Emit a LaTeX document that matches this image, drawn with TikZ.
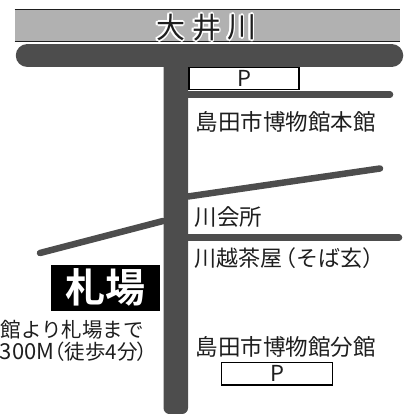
\documentclass[tikz,border=0pt]{standalone}
\usepackage{fontspec}
\setmainfont[RawFeature=+palt]{Noto Sans CJK JP}
\newfontfamily\fullw{Noto Sans CJK JP}
\newfontfamily\boldjp{Noto Sans CJK JP Bold}
\definecolor{road}{HTML}{4D4D4D}
\definecolor{river}{HTML}{B1B1B1}
\definecolor{ink}{HTML}{1E1E1E}
\tikzset{
  road/.style={draw=road,line cap=round},
  label/.style={font=\fullw\fontsize{22.5}{24}\selectfont,text=ink,inner sep=0pt},
  pbox/.style={draw=black,line width=1.2pt,fill=white,minimum width=#1,minimum height=22.5pt,inner sep=0pt,font=\fullw\fontsize{22}{24}\selectfont,text=ink},
  rivername/.style={inner sep=0pt,font=\fullw\fontsize{29}{30}\selectfont}
}
\begin{document}
\begin{tikzpicture}[x=1pt,y=-1pt]
\useasboundingbox (0,0) rectangle (405,414);
% river
\fill[river] (14.5,9) rectangle (400,41);
\draw[ink,line width=.8pt] (14.5,9) -- (400,9);
\draw[ink,line width=.8pt] (14.5,41) -- (400,41);
\foreach \nm/\cx/\tx in {a/170.5/大,b/206.5/井,c/241.5/川}{
  \foreach \ang in {0,45,...,315}{
    \node[rivername,text=white] at ([shift={(\ang:1.8pt)}]\cx,27.5) {\tx};
  }
  \node[rivername,text=ink] (river\nm) at (\cx,27.5) {\tx};
}
% roads
\draw[road,line width=6.5pt] (40,253) -- (163,221);
\draw[road,line width=6.5pt] (188,196.5) -- (380,168.5);
\draw[road,line width=6.5pt] (188,237.5) -- (399,237.5);
\draw[road,line width=6.5pt] (188,94.7) -- (390,94.7);
\draw[road,line width=23.5pt] (27.5,55.5) -- (391.5,55.5);
\fill[fill=road,rounded corners=6pt] (163.5,50) rectangle (188,414);
% labels
\node[pbox=110pt] (p1) at (244,78.5) {P};
\node[pbox=111pt] (p2) at (277,373.7) {P};
\node[label,anchor=west] (honkan) at (195.5,122) {島田市博物館本館};
\node[label,anchor=west] (kaisho) at (194.5,217) {川会所};
\node[label,anchor=west,font=\fullw\fontsize{22}{24}\selectfont] (chaya) at (194.5,258.5) {川越茶屋\hspace{-8pt}（そば玄）};
\node[label,anchor=west] (bunkan) at (195.5,346.5) {島田市博物館分館};
\node[fill=black,text=white,minimum width=109.5pt,minimum height=46pt,inner sep=0pt,font=\boldjp\fontsize{40}{42}\selectfont] (fuda) at (105.3,287.5) {札場};
\node[label,anchor=east,font=\fullw\fontsize{20.5}{24}\selectfont] (dist1) at (144,329.5) {館より札場まで};
\node[label,anchor=east,font=\fontsize{20.5}{24}\selectfont] (dist2) at (148,352) {{\fontsize{22}{24}\selectfont 300M}（徒歩4分）};
\end{tikzpicture}
\end{document}
